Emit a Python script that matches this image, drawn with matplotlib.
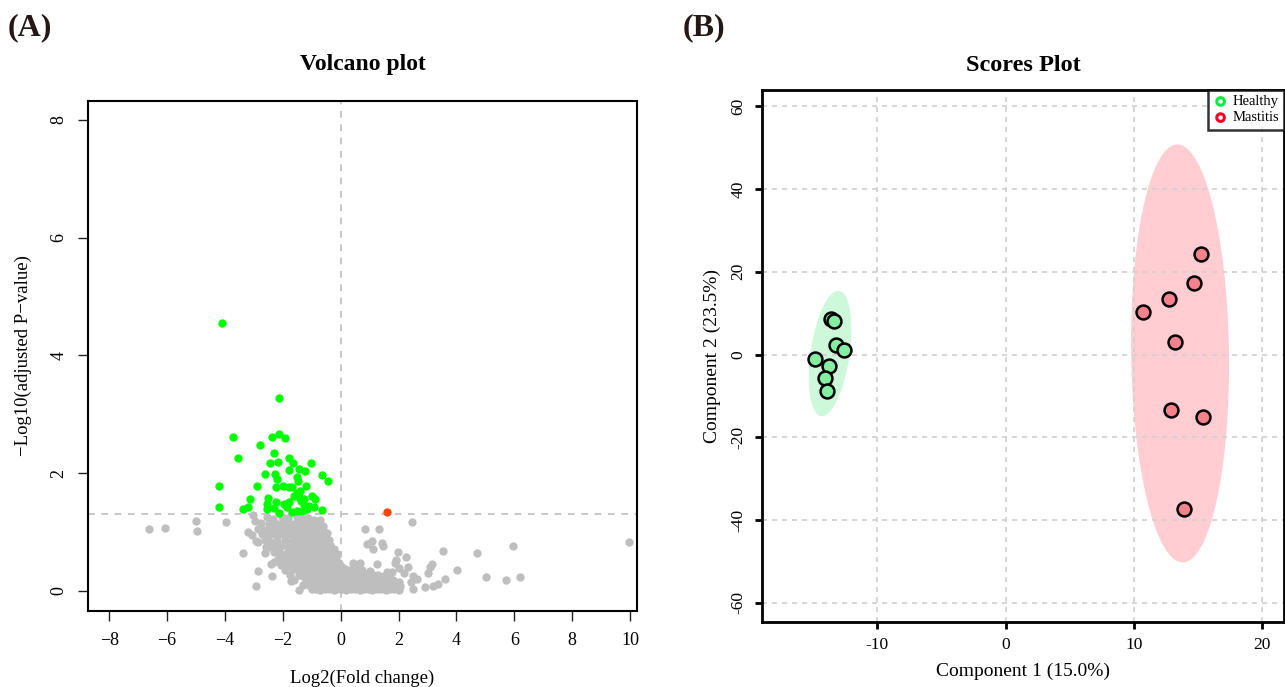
import numpy as np
import matplotlib
matplotlib.use('Agg')
import matplotlib.pyplot as plt

plt.rcParams['font.family'] = ['Liberation Serif', 'DejaVu Serif']

# ---------------- volcano data ----------------
# significant down (green)
down_x = [-4.09, -2.12, -3.72, -3.53, -4.21, -4.21, -2.77, -2.37, -2.14, -1.93, -2.29, -2.44,
          -2.17, -1.78, -1.63, -1.77, -1.45, -1.22, -1.02, -2.60, -2.26, -2.20, -1.50, -2.89,
          -2.23, -1.98, -1.79, -1.67, -1.48, -1.19, -0.63, -0.45, -1.52, -3.14, -2.52, -1.45,
          -1.25, -1.00, -0.88, -3.38, -3.20, -2.54, -2.24, -1.97, -1.77, -1.38, -1.26, -2.55,
          -2.31, -2.13, -1.84, -1.68, -1.51, -1.17, -0.93, -0.64, -1.60, -1.40, -1.10, -1.33]
down_y = [4.55, 3.28, 2.61, 2.25, 1.78, 1.43, 2.48, 2.61, 2.66, 2.59, 2.35, 2.17,
          2.19, 2.25, 2.17, 2.05, 2.07, 2.04, 2.17, 1.98, 1.98, 1.90, 1.94, 1.79,
          1.77, 1.78, 1.77, 1.77, 1.86, 1.79, 1.97, 1.86, 1.67, 1.56, 1.58, 1.59,
          1.57, 1.61, 1.57, 1.39, 1.43, 1.48, 1.51, 1.48, 1.51, 1.52, 1.46, 1.39,
          1.41, 1.32, 1.43, 1.34, 1.35, 1.39, 1.42, 1.38, 1.62, 1.70, 1.44, 1.36]
# significant up (orange)
up_x = [1.60]
up_y = [1.34]

# not significant (gray): scattered points
ns_x = [-6.63, -6.08, -5.00, -4.95, -3.96, -3.37, -2.85, -2.91, -2.36, -3.02, -2.96, -3.20,
        -2.84, -2.59, -2.30, -2.05, -1.71, -1.45, 0.85, 1.33, 2.46, 9.98, 5.97, 4.70,
        3.54, 0.90, 1.09, 1.44, 1.48, 1.13, 1.99, 2.26, 1.91, 1.89, 2.03, 2.34, 2.20, 2.51,
        2.44, 2.51, 2.64, 2.92, 3.20, 3.38, 3.61, 3.03, 3.09, 3.17, 4.01, 5.04, 5.73, 6.19,
        1.25, 1.59, 1.77, 0.67, 0.42]
ns_y = [1.06, 1.07, 1.18, 1.02, 1.17, 0.65, 0.34, 0.09, 0.25, 1.29, 1.18, 1.00,
        0.83, 0.74, 0.50, 0.44, 0.17, 0.02, 1.06, 1.06, 1.17, 0.83, 0.76, 0.65,
        0.68, 0.80, 0.85, 0.81, 0.76, 0.72, 0.66, 0.57, 0.53, 0.47, 0.39, 0.41, 0.31, 0.25,
        0.15, 0.04, 0.20, 0.06, 0.08, 0.12, 0.21, 0.31, 0.41, 0.45, 0.35, 0.24, 0.19, 0.23,
        0.46, 0.33, 0.33, 0.47, 0.47]

# not significant (gray): dense cloud, read row by row
cloud_x = [-2.55, -2.33, -2.04, -1.82, -1.52, -1.31, -1.12, -0.92, -0.73,
           -2.74, -2.49, -2.31, -2.12, -1.91, -1.72, -1.56, -1.41, -1.24, -1.08, -0.96, -0.81, -0.62,
           -2.86, -2.61, -2.44, -2.27, -2.02, -1.86, -1.66, -1.51, -1.36, -1.19, -1.04, -0.89, -0.76, -0.61, -0.47,
           -3.05, -2.71, -2.52, -2.31, -2.16, -1.94, -1.76, -1.61, -1.44, -1.29, -1.16, -1.01, -0.86, -0.69, -0.54, -0.41,
           -2.92, -2.62, -2.41, -2.19, -1.91, -1.71, -1.54, -1.39, -1.26, -1.11, -0.94, -0.79, -0.66, -0.51, -0.36, -0.22,
           -2.46, -2.24, -2.06, -1.82, -1.61, -1.44, -1.31, -1.14, -1.01, -0.84, -0.71, -0.56, -0.39, -0.26, -0.11,
           -2.61, -2.31, -2.09, -1.86, -1.66, -1.49, -1.34, -1.21, -1.06, -0.91, -0.74, -0.61, -0.44, -0.29, -0.16,
           -2.16, -1.94, -1.74, -1.56, -1.41, -1.24, -1.09, -0.96, -0.79, -0.64, -0.51, -0.34, -0.19, -0.06,
           -2.41, -2.01, -1.79, -1.61, -1.46, -1.29, -1.16, -0.99, -0.86, -0.69, -0.56, -0.41, -0.24, -0.11, 0.06,
           -1.91, -1.66, -1.49, -1.36, -1.19, -1.06, -0.89, -0.76, -0.59, -0.46, -0.31, -0.14, 0.01, 0.16, 0.31, 0.52, 0.74, 1.02,
           -1.76, -1.44, -1.31, -1.16, -0.99, -0.86, -0.69, -0.56, -0.39, -0.26, -0.09, 0.06, 0.21, 0.34, 0.51, 0.64, 0.81, 0.94, 1.11, 1.29, 1.51, 1.66,
           -1.61, -1.21, -1.04, -0.91, -0.74, -0.61, -0.46, -0.29, -0.16, 0.01, 0.14, 0.31, 0.44, 0.61, 0.74, 0.91, 1.04, 1.21, 1.34, 1.51, 1.64, 1.81, 2.02,
           -1.31, -1.09, -0.96, -0.79, -0.66, -0.49, -0.36, -0.19, -0.06, 0.11, 0.24, 0.41, 0.54, 0.71, 0.84, 1.01, 1.14, 1.31, 1.44, 1.61, 1.74, 1.91, 2.06,
           -0.99, -0.84, -0.71, -0.54, -0.41, -0.24, -0.11, 0.06, 0.19, 0.36, 0.49, 0.66, 0.79, 0.96, 1.09, 1.26, 1.39, 1.56, 1.69, 1.86, 2.01]
cloud_y = [1.25, 1.23, 1.26, 1.24, 1.25, 1.22, 1.24, 1.21, 1.20,
           1.15, 1.14, 1.16, 1.13, 1.15, 1.14, 1.16, 1.13, 1.15, 1.12, 1.14, 1.13, 1.10,
           1.05, 1.04, 1.06, 1.05, 1.03, 1.06, 1.04, 1.05, 1.03, 1.06, 1.04, 1.05, 1.02, 1.04, 0.99,
           0.95, 0.96, 0.94, 0.96, 0.95, 0.93, 0.96, 0.94, 0.95, 0.96, 0.93, 0.95, 0.94, 0.92, 0.90, 0.86,
           0.85, 0.86, 0.84, 0.85, 0.86, 0.84, 0.85, 0.83, 0.86, 0.85, 0.84, 0.86, 0.84, 0.82, 0.78, 0.72,
           0.75, 0.74, 0.76, 0.75, 0.74, 0.76, 0.75, 0.74, 0.76, 0.75, 0.73, 0.75, 0.72, 0.68, 0.62,
           0.65, 0.66, 0.64, 0.65, 0.66, 0.64, 0.65, 0.66, 0.64, 0.65, 0.66, 0.64, 0.63, 0.60, 0.55,
           0.55, 0.56, 0.54, 0.55, 0.56, 0.54, 0.55, 0.56, 0.54, 0.55, 0.56, 0.54, 0.52, 0.48,
           0.45, 0.46, 0.44, 0.45, 0.46, 0.44, 0.45, 0.46, 0.44, 0.45, 0.46, 0.44, 0.45, 0.43, 0.40,
           0.36, 0.37, 0.35, 0.36, 0.37, 0.35, 0.36, 0.37, 0.35, 0.36, 0.37, 0.35, 0.36, 0.37, 0.35, 0.38, 0.36, 0.34,
           0.27, 0.28, 0.26, 0.27, 0.28, 0.26, 0.27, 0.28, 0.26, 0.27, 0.28, 0.26, 0.27, 0.28, 0.26, 0.27, 0.29, 0.26, 0.27, 0.28, 0.25, 0.27,
           0.18, 0.19, 0.17, 0.18, 0.19, 0.17, 0.18, 0.19, 0.17, 0.18, 0.19, 0.17, 0.18, 0.19, 0.17, 0.18, 0.19, 0.17, 0.18, 0.19, 0.17, 0.18, 0.16,
           0.10, 0.11, 0.09, 0.10, 0.11, 0.09, 0.10, 0.11, 0.09, 0.10, 0.11, 0.09, 0.10, 0.11, 0.09, 0.10, 0.11, 0.09, 0.10, 0.11, 0.09, 0.10, 0.08,
           0.03, 0.04, 0.02, 0.03, 0.04, 0.02, 0.03, 0.04, 0.02, 0.03, 0.04, 0.02, 0.03, 0.04, 0.02, 0.03, 0.04, 0.02, 0.03, 0.04, 0.02]

volcano_xticks = [-8, -6, -4, -2, 0, 2, 4, 6, 8, 10]
volcano_yticks = [0, 2, 4, 6, 8]

# ---------------- PLS-DA scores ----------------
healthy_c1 = [-13.6, -13.4, -13.2, -12.6, -14.9, -13.8, -14.1, -13.9]
healthy_c2 = [8.7, 8.2, 2.4, 1.1, -1.0, -2.8, -5.7, -8.8]
mastitis_c1 = [15.25, 14.7, 12.75, 10.7, 13.2, 12.9, 15.4, 13.9]
mastitis_c2 = [24.2, 17.2, 13.4, 10.2, 3.0, -13.4, -15.0, -37.4]
scores_xticks = [-10, 0, 10, 20]
scores_yticks = [-60, -40, -20, 0, 20, 40, 60]


def conf_ellipse(x, y, t=2.4477, n=200):
    # 95% confidence ellipse from sample covariance
    pts = np.vstack([x, y])
    mu = pts.mean(axis=1)
    L = np.linalg.cholesky(np.cov(pts))
    a = np.linspace(0, 2 * np.pi, n)
    circ = np.vstack([np.cos(a), np.sin(a)])
    e = mu[:, None] + t * L @ circ
    return e[0], e[1]


fig = plt.figure(figsize=(12.85, 6.87), dpi=100)

# ---------------- panel A ----------------
ax1 = fig.add_axes([0.0685, 0.1106, 0.4272, 0.7424])
ax1.axvline(0, color='#BEBEBE', lw=1.2, ls=(0, (4, 4)), zorder=1)
ax1.axhline(-np.log10(0.05), color='#BEBEBE', lw=1.2, ls=(0, (4, 4)), zorder=1)
ax1.scatter(ns_x + cloud_x, ns_y + cloud_y, s=36, color='#BEBEBE', lw=0, zorder=2)
ax1.scatter(down_x, down_y, s=36, color='#00FF00', lw=0, zorder=3)
ax1.scatter(up_x, up_y, s=36, color='#FF4500', lw=0, zorder=3)
ax1.set_xlim(-8.73, 10.24)
ax1.set_ylim(-0.34, 8.32)
ax1.set_xticks(volcano_xticks)
ax1.set_xticklabels([str(v).replace('-', '\u2212') for v in volcano_xticks])
ax1.set_yticks(volcano_yticks)
ax1.set_yticklabels([str(v) for v in volcano_yticks], rotation=90, va='center')
ax1.tick_params(length=7, width=1, labelsize=13, pad=8, color='#222222')
for s in ax1.spines.values():
    s.set_linewidth(1.5)
ax1.set_xlabel('Log2(Fold change)', fontsize=13.5, labelpad=15)
ax1.set_ylabel('\u2212Log10(adjusted P\u2212value)', fontsize=13.5, labelpad=13)
ax1.set_title('Volcano plot', fontsize=17, fontweight='bold', pad=22)

# ---------------- panel B ----------------
ax2 = fig.add_axes([0.593, 0.0946, 0.4062, 0.7744])
for v in scores_xticks:
    ax2.axvline(v, color='#D0D0D0', lw=1.2, ls=(0, (3, 3)), zorder=2)
for v in scores_yticks:
    ax2.axhline(v, color='#D0D0D0', lw=1.2, ls=(0, (3, 3)), zorder=2)
ex, ey = conf_ellipse(healthy_c1, healthy_c2)
ax2.fill(ex, ey, color='#CDF8D9', lw=0, zorder=1)
ex, ey = conf_ellipse(mastitis_c1, mastitis_c2)
ax2.fill(ex, ey, color='#FFCDD2', lw=0, zorder=1)
ax2.scatter(healthy_c1, healthy_c2, s=100, color='#84EFA0', edgecolors='black', linewidths=1.8, zorder=3)
ax2.scatter(mastitis_c1, mastitis_c2, s=100, color='#F4828C', edgecolors='black', linewidths=1.8, zorder=3)
ax2.set_xlim(-19.0, 21.7)
ax2.set_ylim(-64.6, 63.9)
ax2.set_xticks(scores_xticks)
ax2.set_xticklabels([str(v) for v in scores_xticks])
ax2.set_yticks(scores_yticks)
ax2.set_yticklabels([str(v) for v in scores_yticks], rotation=90, va='center')
ax2.tick_params(length=5, width=2, labelsize=12.5, pad=6)
for s in ax2.spines.values():
    s.set_linewidth(2)
ax2.set_xlabel('Component 1 (15.0%)', fontsize=14, labelpad=7)
ax2.set_ylabel('Component 2 (23.5%)', fontsize=14, labelpad=7)
ax2.set_title('Scores Plot', fontsize=17.5, fontweight='bold', pad=14)

h1 = ax2.scatter([], [], s=30, facecolors='none', edgecolors='#00EE44', linewidths=2.2)
h2 = ax2.scatter([], [], s=30, facecolors='none', edgecolors='#FF0022', linewidths=2.2)
leg = ax2.legend([h1, h2], ['Healthy', 'Mastitis'], loc='upper right', fontsize=10.5,
                 frameon=True, fancybox=False, borderaxespad=0, handletextpad=0.3,
                 handlelength=1.0, labelspacing=0.2, borderpad=0.35)
leg.get_frame().set_edgecolor('black')
leg.get_frame().set_linewidth(1.8)

fig.text(0.006, 0.96, '(A)', fontsize=23, fontweight='bold', color='#231815', va='center')
fig.text(0.531, 0.96, '(B)', fontsize=23, fontweight='bold', color='#231815', va='center')

fig.savefig('out.png', dpi=100)
